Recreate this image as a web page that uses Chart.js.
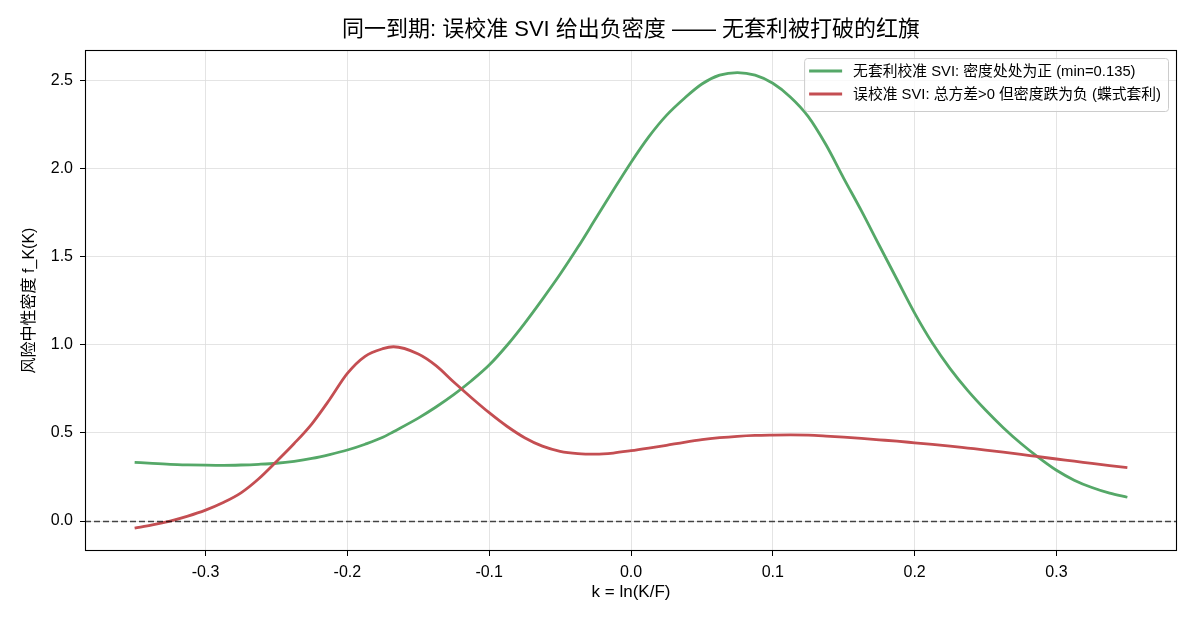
<!DOCTYPE html>
<html>
<head>
<meta charset="utf-8">
<script src="https://cdn.jsdelivr.net/npm/chart.js@4.4.1/dist/chart.umd.min.js"></script>
<style>
    html, body { margin: 0; padding: 0; background: #fff; }
</style>
</head>
<body>
<canvas id="svi-density" width="1196" height="624"></canvas>
<script>
// k = ln(K/F) grid and the two densities
var kValues = [-0.3500, -0.3375, -0.3250, -0.3125, -0.3000, -0.2875, -0.2750, -0.2625, -0.2500, -0.2375,
               -0.2250, -0.2125, -0.2000, -0.1875, -0.1750, -0.1675, -0.1500, -0.1375, -0.1250, -0.1125,
               -0.1000, -0.0875, -0.0750, -0.0625, -0.0500, -0.0375, -0.0250, -0.0125, 0.0000, 0.0125,
               0.0250, 0.0375, 0.0500, 0.0625, 0.0750, 0.0875, 0.1000, 0.1125, 0.1250, 0.1375,
               0.1500, 0.1625, 0.1750, 0.1875, 0.2000, 0.2125, 0.2250, 0.2375, 0.2500, 0.2625,
               0.2750, 0.2875, 0.3000, 0.3125, 0.3250, 0.3375, 0.3500];

var arbFreeDensity = [0.333, 0.327, 0.322, 0.319, 0.317, 0.316, 0.318, 0.322, 0.328, 0.339,
                      0.355, 0.377, 0.403, 0.436, 0.475, 0.507, 0.584, 0.647, 0.717, 0.796,
                      0.885, 0.996, 1.122, 1.258, 1.400, 1.553, 1.715, 1.877, 2.035, 2.180,
                      2.302, 2.398, 2.480, 2.530, 2.545, 2.530, 2.484, 2.405, 2.295, 2.135,
                      1.945, 1.760, 1.565, 1.372, 1.180, 1.010, 0.865, 0.740, 0.630, 0.530,
                      0.440, 0.360, 0.288, 0.232, 0.190, 0.158, 0.135];

var badDensity = [-0.040, -0.022, 0.000, 0.028, 0.062, 0.105, 0.160, 0.240, 0.338, 0.440,
                  0.552, 0.690, 0.838, 0.935, 0.978, 0.989, 0.948, 0.882, 0.789, 0.700,
                  0.615, 0.538, 0.473, 0.425, 0.396, 0.383, 0.380, 0.386, 0.399, 0.414,
                  0.430, 0.447, 0.462, 0.473, 0.481, 0.486, 0.488, 0.489, 0.487, 0.482,
                  0.476, 0.469, 0.461, 0.453, 0.444, 0.435, 0.425, 0.414, 0.403, 0.391,
                  0.378, 0.365, 0.352, 0.340, 0.327, 0.315, 0.303];

var xTicks = [-0.3, -0.2, -0.1, 0.0, 0.1, 0.2, 0.3];
var yTicks = [0.0, 0.5, 1.0, 1.5, 2.0, 2.5];

var chartTitle = '同一到期: 误校准 SVI 给出负密度 —— 无套利被打破的红旗';
var seriesLabels = ['无套利校准 SVI: 密度处处为正 (min=0.135)', '误校准 SVI: 总方差>0 但密度跌为负 (蝶式套利)'];
var seriesColors = ['#55a868', '#c44e52'];

var FONT = "'Liberation Sans', 'Noto Sans CJK SC', sans-serif";

function toPoints(ys) {
    return kValues.map(function (k, i) { return { x: k, y: ys[i] }; });
}

// title over the plot centre, zero line, full frame and the legend box
var overlayPlugin = {
    id: 'overlay',
    afterDatasetsDraw: function (chart) {
        var ctx = chart.ctx, a = chart.chartArea;
        var y0 = Math.round(chart.scales.y.getPixelForValue(0)) + 0.5;
        ctx.save();
        ctx.strokeStyle = 'rgba(0,0,0,0.7)';
        ctx.lineWidth = 1.3;
        ctx.setLineDash([6, 3]);
        ctx.beginPath();
        ctx.moveTo(a.left, y0);
        ctx.lineTo(a.right, y0);
        ctx.stroke();
        ctx.restore();
    },
    afterDraw: function (chart) {
        var ctx = chart.ctx, a = chart.chartArea;
        ctx.save();
        ctx.strokeStyle = '#000';
        ctx.lineWidth = 1.1;
        ctx.strokeRect(Math.round(a.left) + 0.5, Math.round(a.top) + 0.5,
                       Math.round(a.right - a.left) - 1, Math.round(a.bottom - a.top) - 1);

        ctx.fillStyle = '#000';
        ctx.font = '22px ' + FONT;
        ctx.textAlign = 'center';
        ctx.textBaseline = 'middle';
        ctx.fillText(chartTitle, (a.left + a.right) / 2, 30);

        ctx.font = '14.8px ' + FONT;
        var maxW = 0;
        seriesLabels.forEach(function (t) { maxW = Math.max(maxW, ctx.measureText(t).width); });
        var boxW = 5 + 33 + 11 + maxW + 7, boxH = 53;
        var boxL = a.right - 9 - boxW, boxT = a.top + 8;

        ctx.beginPath();
        ctx.roundRect(boxL + 0.5, boxT + 0.5, boxW, boxH, 3);
        ctx.fillStyle = 'rgba(255,255,255,0.8)';
        ctx.fill();
        ctx.strokeStyle = '#cccccc';
        ctx.lineWidth = 1;
        ctx.stroke();

        seriesLabels.forEach(function (t, i) {
            var y = boxT + 13 + i * 23;
            ctx.strokeStyle = seriesColors[i];
            ctx.lineWidth = 3;
            ctx.beginPath();
            ctx.moveTo(boxL + 5, y);
            ctx.lineTo(boxL + 38, y);
            ctx.stroke();
            ctx.fillStyle = '#000';
            ctx.textBaseline = 'middle';
            ctx.textAlign = 'left';
            ctx.fillText(t, boxL + 49, y + 1);
        });
        ctx.restore();
    }
};

Chart.defaults.font.family = FONT;
Chart.defaults.color = '#000';

new Chart(document.getElementById('svi-density'), {
    type: 'line',
    data: {
        datasets: [
            { label: seriesLabels[0], data: toPoints(arbFreeDensity), borderColor: seriesColors[0],
              borderWidth: 2.8, pointRadius: 0, cubicInterpolationMode: 'monotone', order: 2 },
            { label: seriesLabels[1], data: toPoints(badDensity), borderColor: seriesColors[1],
              borderWidth: 2.8, pointRadius: 0, cubicInterpolationMode: 'monotone', order: 1 }
        ]
    },
    options: {
        responsive: false,
        animation: false,
        layout: { padding: { left: 0, right: 19, top: 50, bottom: 0 } },
        plugins: {
            legend: { display: false },
            tooltip: { enabled: false },
            title: { display: false }
        },
        scales: {
            x: {
                type: 'linear',
                min: -0.385,
                max: 0.385,
                afterBuildTicks: function (scale) {
                    scale.ticks = xTicks.map(function (v) { return { value: v }; });
                },
                afterFit: function (scale) { scale.height = 73; },
                ticks: {
                    font: { size: 16 },
                    padding: 7,
                    maxRotation: 0,
                    callback: function (v) { return Number(v).toFixed(1); }
                },
                grid: { color: '#dddddd', lineWidth: 0.8, tickColor: '#000', tickLength: 5, tickWidth: 1 },
                border: { display: false },
                title: { display: true, text: 'k = ln(K/F)', font: { size: 17 }, padding: { top: 0, bottom: 21 } }
            },
            y: {
                type: 'linear',
                min: -0.17,
                max: 2.673,
                afterBuildTicks: function (scale) {
                    scale.ticks = yTicks.map(function (v) { return { value: v }; });
                },
                afterFit: function (scale) { scale.width = 85; },
                ticks: {
                    font: { size: 16 },
                    padding: 7,
                    callback: function (v) { return Number(v).toFixed(1); }
                },
                grid: { color: '#dddddd', lineWidth: 0.8, tickColor: '#000', tickLength: 5, tickWidth: 1 },
                border: { display: false },
                title: { display: true, text: '风险中性密度 f_K(K)', font: { size: 16 }, padding: { top: 20, bottom: 0 } }
            }
        }
    },
    plugins: [overlayPlugin]
});
</script>
</body>
</html>
